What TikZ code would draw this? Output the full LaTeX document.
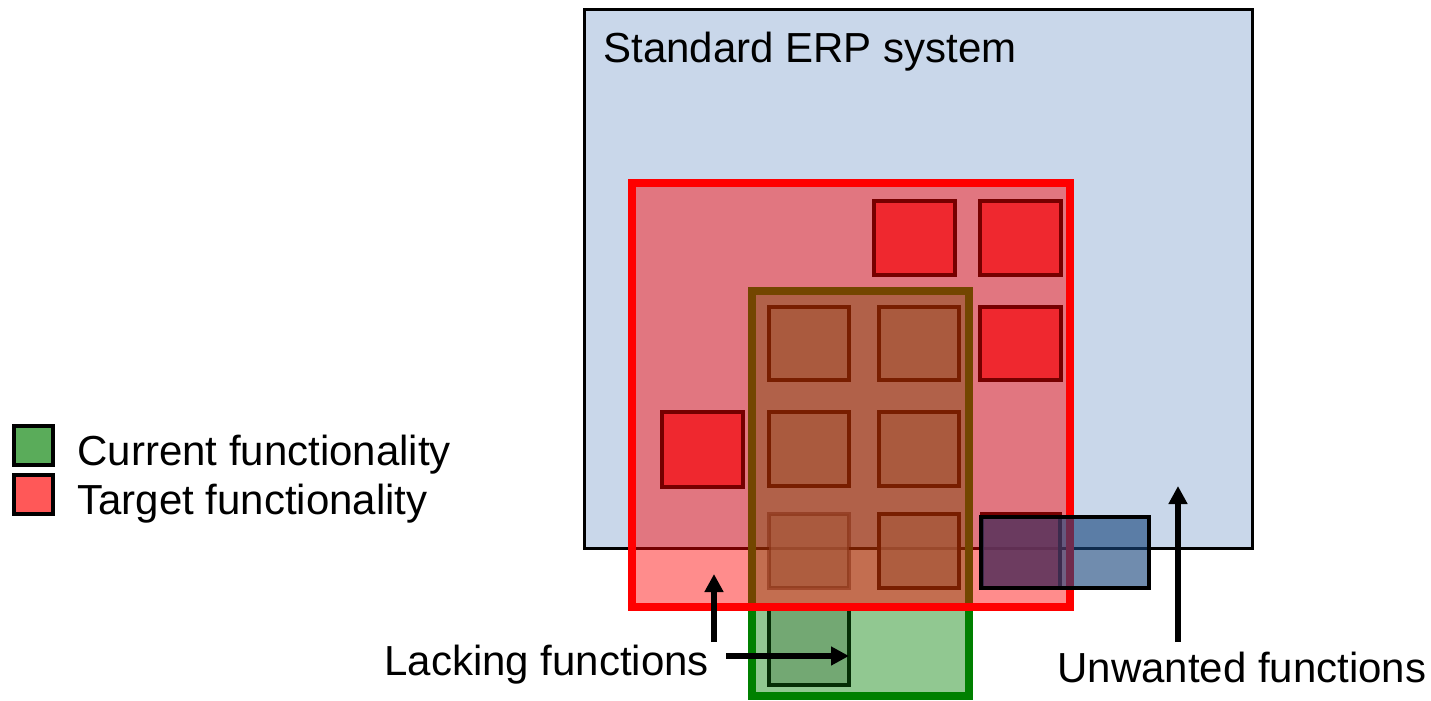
\documentclass[tikz,border=0pt]{standalone}
\usepackage{fontspec}
\setmainfont{Liberation Sans}
\usetikzlibrary{arrows.meta}
\definecolor{erpblue}{RGB}{201,215,234}
\definecolor{curgreen}{RGB}{0,128,0}
\definecolor{sqred}{RGB}{245,14,21}
\definecolor{sqbrown}{RGB}{168,88,59}
\definecolor{sqdark}{RGB}{118,0,0}
\definecolor{sqrust}{RGB}{120,30,0}
\definecolor{sqgreen}{RGB}{60,110,60}
\definecolor{unwblue}{RGB}{25,70,125}
\definecolor{legreen}{RGB}{90,172,90}
\definecolor{legred}{RGB}{255,88,88}

\begin{document}
\begin{tikzpicture}[x=0.5pt,y=-0.5pt,>={Triangle[width=9pt,length=9pt]},
	font=\fontsize{21}{25}\selectfont,
	txt/.style={inner sep=0pt,anchor=base west},
	tsq/.style={fill=sqred,fill opacity=0.75,draw=sqdark,line width=2pt},
	bsq/.style={fill=sqbrown,fill opacity=0.75,draw=sqrust,line width=2pt},
	pointer/.style={->,line width=2.8pt}]
	%\draw [help lines] (0,0) grid (1431,701);
	\useasboundingbox (0,0) rectangle (1431,701);
	\draw [fill=erpblue,line width=1.5pt] (584,10) rectangle (1252,548);
	\node [txt] (erp) at (603,63) {Standard ERP system};
	% current and target
	\draw [fill=curgreen,fill opacity=0.43,draw=curgreen,line width=3.75pt] (752,291) rectangle (969,696);
	\draw [fill=sqgreen,fill opacity=0.35,draw={rgb,255:red,5;green,45;blue,5},line width=2pt] (769,606) rectangle (849,685);
	\draw [fill=red,fill opacity=0.45,draw=red,line width=3.75pt] (632,183) rectangle (1070,607);
	\draw [tsq] (874,201) rectangle (955,275);
	\draw [tsq] (980,201) rectangle (1061,275);
	\draw [tsq] (980,307) rectangle (1061,380);
	\draw [tsq] (662,412) rectangle (743,487);
	\draw [tsq] (982,514) rectangle (1060,588);
	\draw [bsq] (769,307) rectangle (849,380);
	\draw [bsq] (879,307) rectangle (959,380);
	\draw [bsq] (769,412) rectangle (849,486);
	\draw [bsq] (879,412) rectangle (959,486);
	\draw [bsq,draw opacity=0.45] (769,514) rectangle (849,588);
	\draw [bsq] (879,514) rectangle (959,588);
	\draw [fill=unwblue,fill opacity=0.62,line width=2.25pt] (981,517) rectangle (1149,588);
	% labels
	\node [txt] (lack) at (384,675) {Lacking functions};
	\node [txt] (unw) at (1057,682) {Unwanted functions};
	\coordinate (lackup) at (714,642);
	\coordinate (lackpink) at (714,574);
	\coordinate (lackright) at (726,656);
	\coordinate (lackgreen) at (849,656);
	\coordinate (unwfoot) at (1178,642);
	\coordinate (unwblue) at (1178,486);
	\draw [pointer] (lackup) -- (lackpink);
	\draw [pointer] (lackright) -- (lackgreen);
	\draw [pointer] (unwfoot) -- (unwblue);
	% legend
	\draw [fill=legreen,line width=2pt] (14,426) rectangle (53,465);
	\draw [fill=legred,line width=2pt] (14,475) rectangle (53,514);
	\node [txt] (cur) at (77,465) {Current functionality};
	\node [txt] (tgt) at (77,514) {Target functionality};
\end{tikzpicture}
\end{document}
